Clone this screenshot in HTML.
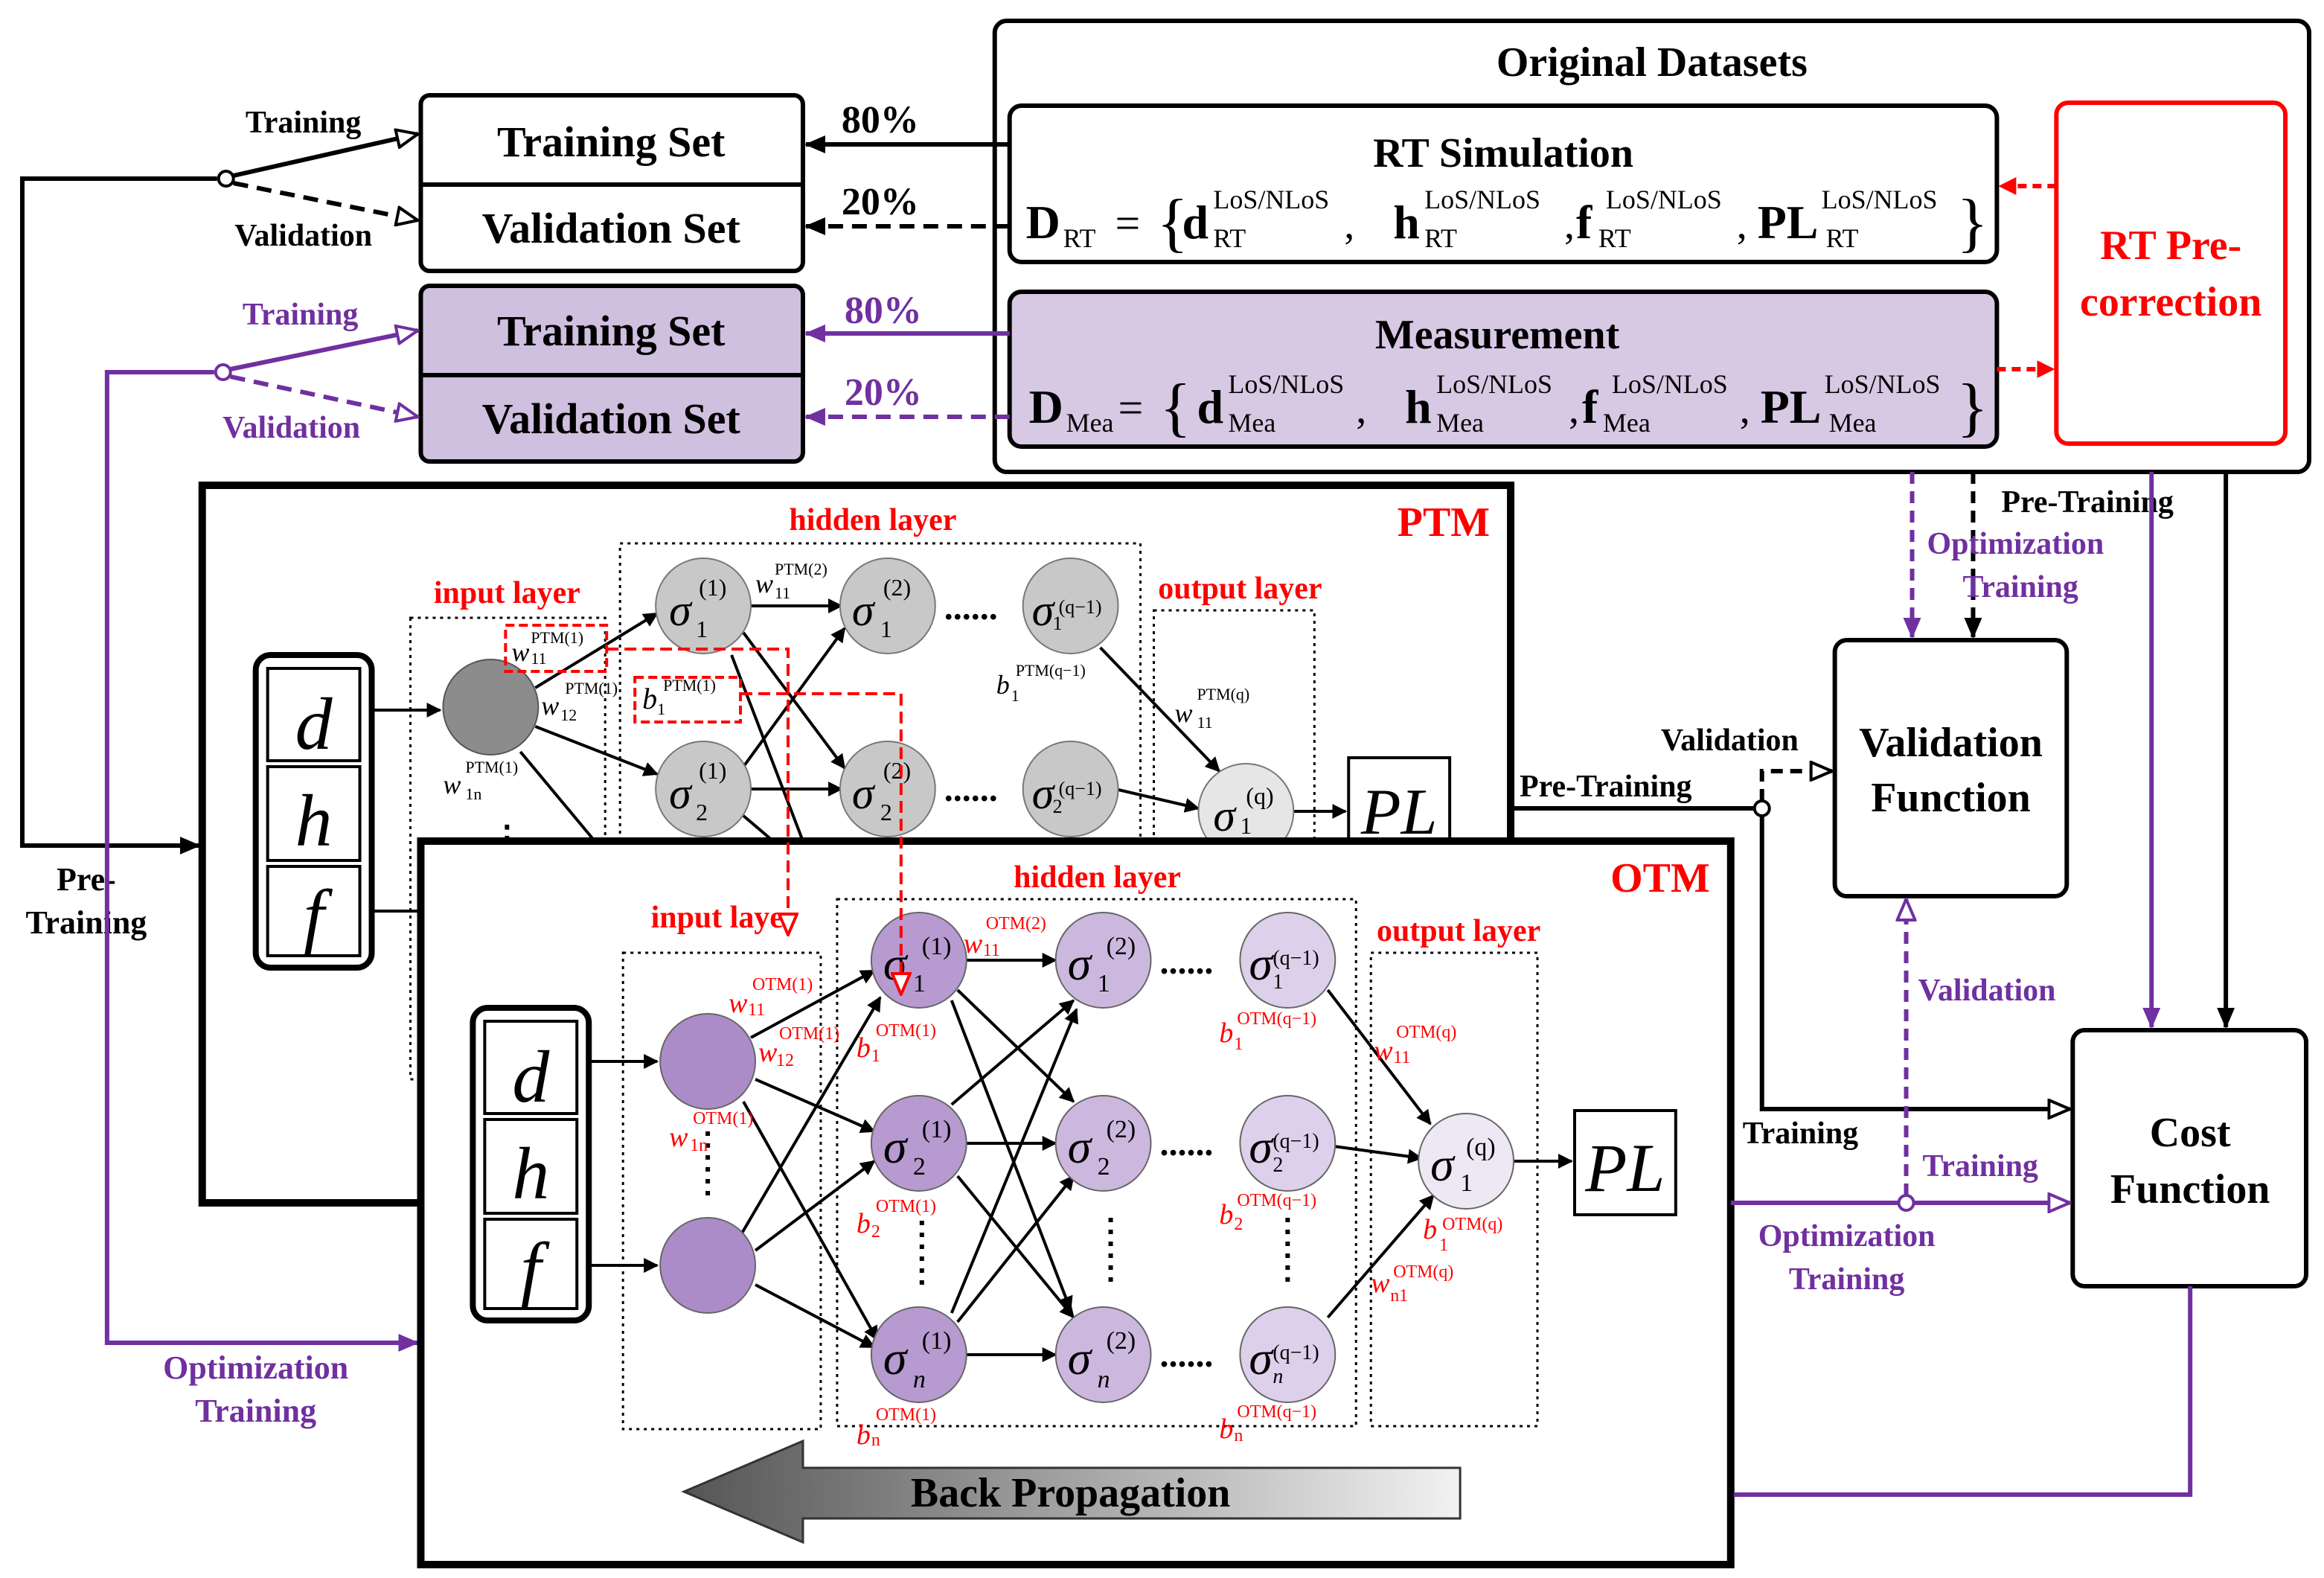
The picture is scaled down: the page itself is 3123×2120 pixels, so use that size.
<!DOCTYPE html>
<html><head><meta charset="utf-8"><style>
html,body{margin:0;padding:0;background:#fff}
svg{display:block}
text{font-family:"Liberation Serif",serif}
.b{font-weight:bold}
</style></head><body>
<svg width="3123" height="2120" viewBox="0 0 1563 1060" preserveAspectRatio="none" xmlns="http://www.w3.org/2000/svg">
<defs>
<marker id="ak" markerWidth="10" markerHeight="10" refX="9" refY="5" orient="auto" markerUnits="userSpaceOnUse"><path d="M0,0 L10,5 L0,10 z" fill="#000"/></marker>
<marker id="ao" markerWidth="16" markerHeight="14" refX="15" refY="7" orient="auto" markerUnits="userSpaceOnUse"><path d="M1,1 L15,7 L1,13 z" fill="#fff" stroke="#000" stroke-width="2"/></marker>
<marker id="ap" markerWidth="16" markerHeight="14" refX="15" refY="7" orient="auto" markerUnits="userSpaceOnUse"><path d="M1,1 L15,7 L1,13 z" fill="#fff" stroke="#7030a0" stroke-width="2"/></marker>
<marker id="apf" markerWidth="14" markerHeight="12" refX="13" refY="6" orient="auto" markerUnits="userSpaceOnUse"><path d="M0,0 L14,6 L0,12 z" fill="#7030a0"/></marker>
<marker id="akf" markerWidth="14" markerHeight="12" refX="13" refY="6" orient="auto" markerUnits="userSpaceOnUse"><path d="M0,0 L14,6 L0,12 z" fill="#000"/></marker>
<marker id="ar" markerWidth="12" markerHeight="12" refX="11" refY="6" orient="auto" markerUnits="userSpaceOnUse"><path d="M0,0 L12,6 L0,12 z" fill="#f00"/></marker>
<marker id="aro" markerWidth="14" markerHeight="16" refX="7" refY="15" orient="0" markerUnits="userSpaceOnUse"><path d="M1,1 L13,1 L7,15 z" fill="#fff" stroke="#f00" stroke-width="2"/></marker>
<linearGradient id="bp" x1="0" x2="1" y1="0" y2="0"><stop offset="0" stop-color="#555"/><stop offset="1" stop-color="#f2f2f2"/></linearGradient>
</defs>

<!-- Original datasets -->
<rect x="669" y="14" width="884" height="303" rx="8" fill="#fff" stroke="#000" stroke-width="3"/>
<text x="1111" y="51" class="b" font-size="28" text-anchor="middle">Original Datasets</text>
<rect x="679" y="71" width="664" height="105" rx="8" fill="#fff" stroke="#000" stroke-width="3"/>
<text x="1011" y="112" class="b" font-size="28" text-anchor="middle">RT Simulation</text>
<g font-size="18">
<text x="690" y="160" class="b" font-size="32">D</text><text x="715" y="166">RT</text>
<text x="750" y="160" font-size="30">=</text><text x="778" y="164" font-size="44">{</text>
<text x="795" y="160" class="b" font-size="32">d</text><text x="816" y="140">LoS/NLoS</text><text x="816" y="166">RT</text><text x="904" y="160" font-size="28">,</text>
<text x="937" y="160" class="b" font-size="32">h</text><text x="958" y="140">LoS/NLoS</text><text x="958" y="166">RT</text><text x="1052" y="160" font-size="28">,</text>
<text x="1060" y="160" class="b" font-size="32">f</text><text x="1080" y="140">LoS/NLoS</text><text x="1075" y="166">RT</text><text x="1168" y="160" font-size="28">,</text>
<text x="1182" y="160" class="b" font-size="32">PL</text><text x="1225" y="140">LoS/NLoS</text><text x="1228" y="166">RT</text>
<text x="1316" y="164" font-size="44">}</text>
</g>
<rect x="679" y="196" width="664" height="104" rx="8" fill="#d7c8e4" stroke="#000" stroke-width="3"/>
<text x="1007" y="234" class="b" font-size="28" text-anchor="middle">Measurement</text>
<g font-size="18">
<text x="692" y="284" class="b" font-size="32">D</text><text x="717" y="290">Mea</text>
<text x="752" y="284" font-size="30">=</text><text x="780" y="288" font-size="44">{</text>
<text x="805" y="284" class="b" font-size="32">d</text><text x="826" y="264">LoS/NLoS</text><text x="826" y="290">Mea</text><text x="912" y="284" font-size="28">,</text>
<text x="945" y="284" class="b" font-size="32">h</text><text x="966" y="264">LoS/NLoS</text><text x="966" y="290">Mea</text><text x="1055" y="284" font-size="28">,</text>
<text x="1064" y="284" class="b" font-size="32">f</text><text x="1084" y="264">LoS/NLoS</text><text x="1078" y="290">Mea</text><text x="1170" y="284" font-size="28">,</text>
<text x="1184" y="284" class="b" font-size="32">PL</text><text x="1227" y="264">LoS/NLoS</text><text x="1230" y="290">Mea</text>
<text x="1316" y="288" font-size="44">}</text>
</g>
<rect x="1383" y="69" width="154" height="229" rx="8" fill="#fff" stroke="#f00" stroke-width="3"/>
<text x="1460" y="174" class="b" font-size="28" fill="#f00" text-anchor="middle">RT Pre-</text>
<text x="1460" y="212" class="b" font-size="28" fill="#f00" text-anchor="middle">correction</text>
<line x1="1383" y1="125" x2="1345" y2="125" stroke="#f00" stroke-width="3" stroke-dasharray="6,4" marker-end="url(#ar)"/>
<line x1="1343" y1="248" x2="1381" y2="248" stroke="#f00" stroke-width="3" stroke-dasharray="6,4" marker-end="url(#ar)"/>

<!-- Sets -->
<rect x="283" y="64" width="257" height="118" rx="6" fill="#fff" stroke="#000" stroke-width="3"/>
<line x1="283" y1="124" x2="540" y2="124" stroke="#000" stroke-width="3"/>
<text x="411" y="105" class="b" font-size="29" text-anchor="middle">Training Set</text>
<text x="411" y="163" class="b" font-size="29" text-anchor="middle">Validation Set</text>
<rect x="283" y="192" width="257" height="118" rx="6" fill="#cfc0df" stroke="#000" stroke-width="3"/>
<line x1="283" y1="252" x2="540" y2="252" stroke="#000" stroke-width="3"/>
<text x="411" y="232" class="b" font-size="29" text-anchor="middle">Training Set</text>
<text x="411" y="291" class="b" font-size="29" text-anchor="middle">Validation Set</text>

<line x1="679" y1="97" x2="542" y2="97" stroke="#000" stroke-width="3" marker-end="url(#akf)"/>
<text x="592" y="89" class="b" font-size="26" text-anchor="middle">80%</text>
<line x1="679" y1="152" x2="542" y2="152" stroke="#000" stroke-width="3" stroke-dasharray="10,6" marker-end="url(#akf)"/>
<text x="592" y="144" class="b" font-size="26" text-anchor="middle">20%</text>
<line x1="679" y1="224" x2="542" y2="224" stroke="#7030a0" stroke-width="3" marker-end="url(#apf)"/>
<text x="594" y="217" class="b" font-size="26" fill="#7030a0" text-anchor="middle">80%</text>
<line x1="679" y1="280" x2="542" y2="280" stroke="#7030a0" stroke-width="3" stroke-dasharray="10,6" marker-end="url(#apf)"/>
<text x="594" y="272" class="b" font-size="26" fill="#7030a0" text-anchor="middle">20%</text>

<!-- left switches -->
<polyline points="136,568 15,568 15,120 146,120" fill="none" stroke="#000" stroke-width="3"/>
<line x1="15" y1="568" x2="134" y2="568" stroke="#000" stroke-width="3" marker-end="url(#akf)"/>
<circle cx="152" cy="120" r="5" fill="#fff" stroke="#000" stroke-width="2"/>
<line x1="157" y1="118" x2="281" y2="90" stroke="#000" stroke-width="3" marker-end="url(#ao)"/>
<line x1="157" y1="123" x2="281" y2="148" stroke="#000" stroke-width="3" stroke-dasharray="10,6" marker-end="url(#ao)"/>
<text x="204" y="89" class="b" font-size="21" text-anchor="middle">Training</text>
<text x="204" y="165" class="b" font-size="21" text-anchor="middle">Validation</text>
<text x="58" y="598" class="b" font-size="22" text-anchor="middle">Pre-</text>
<text x="58" y="627" class="b" font-size="22" text-anchor="middle">Training</text>

<polyline points="144,250 72,250 72,902 270,902" fill="none" stroke="#7030a0" stroke-width="3"/>
<line x1="72" y1="902" x2="281" y2="902" stroke="#7030a0" stroke-width="3" marker-end="url(#apf)"/>
<circle cx="150" cy="250" r="5" fill="#fff" stroke="#7030a0" stroke-width="2"/>
<line x1="155" y1="248" x2="281" y2="222" stroke="#7030a0" stroke-width="3" marker-end="url(#ap)"/>
<line x1="155" y1="253" x2="281" y2="280" stroke="#7030a0" stroke-width="3" stroke-dasharray="10,6" marker-end="url(#ap)"/>
<text x="202" y="218" class="b" font-size="21" fill="#7030a0" text-anchor="middle">Training</text>
<text x="196" y="294" class="b" font-size="21" fill="#7030a0" text-anchor="middle">Validation</text>
<text x="172" y="926" class="b" font-size="22" fill="#7030a0" text-anchor="middle">Optimization</text>
<text x="172" y="955" class="b" font-size="22" fill="#7030a0" text-anchor="middle">Training</text>

<!-- PTM -->
<rect x="136" y="326" width="880" height="482" fill="#fff" stroke="#000" stroke-width="5"/>
<text x="1002" y="360" class="b" font-size="28" fill="#f00" text-anchor="end">PTM</text>
<text x="587" y="356" class="b" font-size="21" fill="#f00" text-anchor="middle">hidden layer</text>
<text x="341" y="405" class="b" font-size="21" fill="#f00" text-anchor="middle">input layer</text>
<text x="834" y="402" class="b" font-size="21" fill="#f00" text-anchor="middle">output layer</text>
<rect x="276" y="415" width="131" height="310" fill="none" stroke="#000" stroke-width="1.5" stroke-dasharray="2,3"/>
<rect x="417" y="365" width="350" height="300" fill="none" stroke="#000" stroke-width="1.5" stroke-dasharray="2,3"/>
<rect x="776" y="410" width="108" height="250" fill="none" stroke="#000" stroke-width="1.5" stroke-dasharray="2,3"/>
<rect x="172" y="440" width="78" height="210" rx="10" fill="#fff" stroke="#000" stroke-width="4"/>
<rect x="180" y="449" width="62" height="62" fill="#fff" stroke="#000" stroke-width="2"/>
<rect x="180" y="515" width="62" height="63" fill="#fff" stroke="#000" stroke-width="2"/>
<rect x="180" y="582" width="62" height="60" fill="#fff" stroke="#000" stroke-width="2"/>
<text x="211" y="503" font-size="50" font-style="italic" text-anchor="middle">d</text>
<text x="211" y="568" font-size="50" font-style="italic" text-anchor="middle">h</text>
<text x="211" y="632" font-size="50" font-style="italic" text-anchor="middle">f</text>
<g stroke="#000" stroke-width="2" fill="none">
<line x1="250" y1="477" x2="296" y2="477" marker-end="url(#ak)"/>
<line x1="250" y1="612" x2="282" y2="612"/>
<line x1="360" y1="462" x2="442" y2="412" marker-end="url(#ak)"/>
<line x1="360" y1="488" x2="442" y2="520" marker-end="url(#ak)"/>
<line x1="350" y1="505" x2="400" y2="565"/>
<line x1="505" y1="407" x2="566" y2="407" marker-end="url(#ak)"/>
<line x1="505" y1="530" x2="566" y2="530" marker-end="url(#ak)"/>
<line x1="500" y1="425" x2="568" y2="516" marker-end="url(#ak)"/>
<line x1="500" y1="515" x2="568" y2="422" marker-end="url(#ak)"/>
<line x1="492" y1="440" x2="540" y2="565"/>
<line x1="500" y1="548" x2="520" y2="565"/>
<line x1="750" y1="530" x2="806" y2="543" marker-end="url(#ak)"/>
<line x1="740" y1="435" x2="820" y2="518" marker-end="url(#ak)"/>
<line x1="870" y1="545" x2="905" y2="545" marker-end="url(#ak)"/>
</g>
<circle cx="330" cy="475" r="32" fill="#8c8c8c" stroke="#555"/>
<g fill="#c8c8c8" stroke="#777">
<circle cx="473" cy="407" r="32"/><circle cx="597" cy="407" r="32"/><circle cx="720" cy="407" r="32"/>
<circle cx="473" cy="530" r="32"/><circle cx="597" cy="530" r="32"/><circle cx="720" cy="530" r="32"/>
</g>
<circle cx="838" cy="545" r="32" fill="#e6e6e6" stroke="#777"/>
<g font-size="30" font-style="italic">
<text x="450" y="420">σ</text><text x="573" y="420">σ</text><text x="694" y="420">σ</text>
<text x="450" y="543">σ</text><text x="573" y="543">σ</text><text x="694" y="543">σ</text><text x="816" y="558">σ</text>
</g>
<g font-size="16">
<text x="470" y="400">(1)</text><text x="594" y="400">(2)</text><text x="712" y="412" font-size="13">(q−1)</text>
<text x="470" y="523">(1)</text><text x="594" y="523">(2)</text><text x="712" y="534" font-size="13">(q−1)</text><text x="838" y="540">(q)</text>
<text x="468" y="428">1</text><text x="592" y="428">1</text><text x="708" y="423" font-size="13">1</text>
<text x="468" y="551">2</text><text x="592" y="551">2</text><text x="708" y="546" font-size="13">2</text><text x="834" y="560">1</text>
</g>
<text x="635" y="416" font-size="24" font-weight="bold">......</text>
<text x="635" y="538" font-size="24" font-weight="bold">......</text>
<rect x="907" y="509" width="68" height="56" fill="#fff" stroke="#000" stroke-width="2"/>
<text x="941" y="560" font-size="44" font-style="italic" text-anchor="middle">PL</text>
<g font-size="18" font-style="italic"><text x="344" y="444">w</text><text x="364" y="480">w</text><text x="298" y="533">w</text><text x="508" y="398">w</text><text x="790" y="485">w</text><text x="670" y="466">b</text></g>
<g font-size="11"><text x="357" y="432">PTM(1)</text><text x="357" y="446">11</text><text x="380" y="466">PTM(1)</text><text x="377" y="484">12</text><text x="313" y="519">PTM(1)</text><text x="313" y="537">1n</text><text x="521" y="386">PTM(2)</text><text x="521" y="402">11</text><text x="805" y="470">PTM(q)</text><text x="805" y="489">11</text><text x="683" y="454">PTM(q−1)</text><text x="680" y="471">1</text><text x="446" y="464">PTM(1)</text><text x="442" y="480">1</text></g>
<text x="432" y="476" font-size="20" font-style="italic">b</text>
<text x="330" y="570" font-size="22" font-weight="bold">⋮</text>
<rect x="340" y="420" width="68" height="31" fill="none" stroke="#f00" stroke-width="2" stroke-dasharray="6,3"/>
<rect x="427" y="455" width="71" height="30" fill="none" stroke="#f00" stroke-width="2" stroke-dasharray="6,3"/>

<!-- OTM -->
<rect x="283" y="565" width="881" height="486" fill="#fff" stroke="#000" stroke-width="5"/>
<text x="1150" y="599" class="b" font-size="28" fill="#f00" text-anchor="end">OTM</text>
<text x="738" y="596" class="b" font-size="21" fill="#f00" text-anchor="middle">hidden layer</text>
<text x="487" y="623" class="b" font-size="21" fill="#f00" text-anchor="middle">input layer</text>
<text x="981" y="632" class="b" font-size="21" fill="#f00" text-anchor="middle">output layer</text>
<rect x="419" y="640" width="133" height="320" fill="none" stroke="#000" stroke-width="1.5" stroke-dasharray="2,3"/>
<rect x="563" y="604" width="349" height="354" fill="none" stroke="#000" stroke-width="1.5" stroke-dasharray="2,3"/>
<rect x="922" y="640" width="112" height="318" fill="none" stroke="#000" stroke-width="1.5" stroke-dasharray="2,3"/>
<rect x="318" y="677" width="78" height="210" rx="10" fill="#fff" stroke="#000" stroke-width="4"/>
<rect x="326" y="686" width="62" height="62" fill="#fff" stroke="#000" stroke-width="2"/>
<rect x="326" y="752" width="62" height="63" fill="#fff" stroke="#000" stroke-width="2"/>
<rect x="326" y="819" width="62" height="60" fill="#fff" stroke="#000" stroke-width="2"/>
<text x="357" y="740" font-size="50" font-style="italic" text-anchor="middle">d</text>
<text x="357" y="805" font-size="50" font-style="italic" text-anchor="middle">h</text>
<text x="357" y="869" font-size="50" font-style="italic" text-anchor="middle">f</text>
<g stroke="#000" stroke-width="2" fill="none" marker-end="url(#ak)">
<line x1="396" y1="713" x2="442" y2="713"/>
<line x1="396" y1="850" x2="442" y2="850"/>
<line x1="505" y1="697" x2="588" y2="652"/>
<line x1="508" y1="725" x2="588" y2="760"/>
<line x1="500" y1="740" x2="590" y2="900"/>
<line x1="498" y1="830" x2="592" y2="670"/>
<line x1="508" y1="840" x2="588" y2="780"/>
<line x1="508" y1="863" x2="588" y2="905"/>
<line x1="650" y1="645" x2="710" y2="645"/>
<line x1="650" y1="768" x2="710" y2="768"/>
<line x1="650" y1="910" x2="710" y2="910"/>
<line x1="644" y1="665" x2="722" y2="740"/>
<line x1="640" y1="672" x2="720" y2="880"/>
<line x1="640" y1="742" x2="722" y2="672"/>
<line x1="644" y1="790" x2="722" y2="885"/>
<line x1="640" y1="882" x2="724" y2="678"/>
<line x1="644" y1="888" x2="722" y2="790"/>
<line x1="893" y1="665" x2="962" y2="755"/>
<line x1="897" y1="770" x2="956" y2="778"/>
<line x1="893" y1="885" x2="964" y2="803"/>
<line x1="1018" y1="780" x2="1057" y2="780"/>
</g>
<circle cx="476" cy="713" r="32" fill="#ab8cc8" stroke="#666"/>
<circle cx="476" cy="850" r="32" fill="#ab8cc8" stroke="#666"/>
<g stroke="#666">
<circle cx="618" cy="645" r="32" fill="#b69ad0"/><circle cx="742" cy="645" r="32" fill="#ccb8de"/><circle cx="866" cy="645" r="32" fill="#ddd0ea"/>
<circle cx="618" cy="768" r="32" fill="#b69ad0"/><circle cx="742" cy="768" r="32" fill="#ccb8de"/><circle cx="866" cy="768" r="32" fill="#ddd0ea"/>
<circle cx="618" cy="910" r="32" fill="#b69ad0"/><circle cx="742" cy="910" r="32" fill="#ccb8de"/><circle cx="866" cy="910" r="32" fill="#ddd0ea"/>
<circle cx="986" cy="780" r="32" fill="#eee7f4"/>
</g>
<g font-size="32" font-style="italic">
<text x="594" y="658">σ</text><text x="718" y="658">σ</text><text x="840" y="658">σ</text>
<text x="594" y="781">σ</text><text x="718" y="781">σ</text><text x="840" y="781">σ</text>
<text x="594" y="923">σ</text><text x="718" y="923">σ</text><text x="840" y="923">σ</text><text x="962" y="793">σ</text>
</g>
<g font-size="17">
<text x="620" y="641">(1)</text><text x="744" y="641">(2)</text><text x="856" y="648" font-size="14">(q−1)</text>
<text x="620" y="764">(1)</text><text x="744" y="764">(2)</text><text x="856" y="771" font-size="14">(q−1)</text>
<text x="620" y="906">(1)</text><text x="744" y="906">(2)</text><text x="856" y="913" font-size="14">(q−1)</text><text x="986" y="776">(q)</text>
<text x="614" y="666">1</text><text x="738" y="666">1</text><text x="856" y="664" font-size="14">1</text>
<text x="614" y="789">2</text><text x="738" y="789">2</text><text x="856" y="787" font-size="14">2</text>
<text x="614" y="932" font-style="italic">n</text><text x="738" y="932" font-style="italic">n</text><text x="856" y="929" font-size="14" font-style="italic">n</text><text x="982" y="800">1</text>
</g>
<text x="780" y="654" font-size="24" font-weight="bold">......</text>
<text x="780" y="776" font-size="24" font-weight="bold">......</text>
<text x="780" y="918" font-size="24" font-weight="bold">......</text>
<g stroke="#000" stroke-width="3" stroke-dasharray="3,5"><line x1="476" y1="760" x2="476" y2="805"/><line x1="620" y1="820" x2="620" y2="865"/><line x1="747" y1="818" x2="747" y2="865"/><line x1="866" y1="818" x2="866" y2="865"/></g>
<rect x="1059" y="746" width="68" height="70" fill="#fff" stroke="#000" stroke-width="2"/>
<text x="1093" y="800" font-size="46" font-style="italic" text-anchor="middle">PL</text>
<g fill="#f00" font-size="19" font-style="italic"><text x="490" y="680">w</text><text x="510" y="713">w</text><text x="450" y="770">w</text><text x="648" y="640">w</text><text x="576" y="710">b</text><text x="576" y="828">b</text><text x="576" y="970">b</text><text x="820" y="700">b</text><text x="820" y="822">b</text><text x="820" y="966">b</text><text x="924" y="712">w</text><text x="957" y="832">b</text><text x="922" y="868">w</text></g>
<g fill="#f00" font-size="12"><text x="506" y="665">OTM(1)</text><text x="503" y="682">11</text><text x="524" y="698">OTM(1)</text><text x="522" y="716">12</text><text x="466" y="755">OTM(1)</text><text x="464" y="773">1n</text><text x="663" y="624">OTM(2)</text><text x="661" y="642">11</text><text x="589" y="696">OTM(1)</text><text x="586" y="713">1</text><text x="589" y="814">OTM(1)</text><text x="586" y="831">2</text><text x="589" y="954">OTM(1)</text><text x="586" y="971">n</text><text x="832" y="688">OTM(q−1)</text><text x="830" y="705">1</text><text x="832" y="810">OTM(q−1)</text><text x="830" y="826">2</text><text x="832" y="952">OTM(q−1)</text><text x="830" y="968">n</text><text x="939" y="697">OTM(q)</text><text x="937" y="714">11</text><text x="970" y="826">OTM(q)</text><text x="968" y="840">1</text><text x="937" y="858">OTM(q)</text><text x="935" y="874">n1</text></g>

<!-- red dashed connectors -->
<polyline points="408,436 530,436 530,628" fill="none" stroke="#f00" stroke-width="2" stroke-dasharray="8,4" marker-end="url(#aro)"/>
<polyline points="498,466 606,466 606,668" fill="none" stroke="#f00" stroke-width="2" stroke-dasharray="8,4" marker-end="url(#aro)"/>

<!-- Back propagation -->
<polygon points="460,1002 540,968 540,986 982,986 982,1020 540,1020 540,1036" fill="url(#bp)" stroke="#333" stroke-width="1.5"/>
<text x="720" y="1012" class="b" font-size="28" text-anchor="middle">Back Propagation</text>

<!-- Validation/Cost -->
<rect x="1234" y="430" width="156" height="172" rx="8" fill="#fff" stroke="#000" stroke-width="3"/>
<text x="1312" y="508" class="b" font-size="28" text-anchor="middle">Validation</text>
<text x="1312" y="545" class="b" font-size="28" text-anchor="middle">Function</text>
<rect x="1394" y="692" width="157" height="172" rx="8" fill="#fff" stroke="#000" stroke-width="3"/>
<text x="1473" y="770" class="b" font-size="28" text-anchor="middle">Cost</text>
<text x="1473" y="808" class="b" font-size="28" text-anchor="middle">Function</text>

<line x1="1286" y1="317" x2="1286" y2="428" stroke="#7030a0" stroke-width="3" stroke-dasharray="8,5" marker-end="url(#apf)"/>
<line x1="1327" y1="317" x2="1327" y2="428" stroke="#000" stroke-width="3" stroke-dasharray="8,5" marker-end="url(#akf)"/>
<text x="1346" y="344" class="b" font-size="21">Pre-Training</text>
<text x="1296" y="372" class="b" font-size="21" fill="#7030a0">Optimization</text>
<text x="1320" y="401" class="b" font-size="21" fill="#7030a0">Training</text>
<line x1="1447" y1="317" x2="1447" y2="690" stroke="#7030a0" stroke-width="3" marker-end="url(#apf)"/>
<line x1="1497" y1="317" x2="1497" y2="690" stroke="#000" stroke-width="3" marker-end="url(#akf)"/>

<polyline points="1016,543 1180,543" fill="none" stroke="#000" stroke-width="3"/>
<circle cx="1185" cy="543" r="5" fill="#fff" stroke="#000" stroke-width="2"/>
<polyline points="1185,538 1185,518 1232,518" fill="none" stroke="#000" stroke-width="3" stroke-dasharray="8,5" marker-end="url(#ao)"/>
<polyline points="1185,548 1185,745 1392,745" fill="none" stroke="#000" stroke-width="3" marker-end="url(#ao)"/>
<text x="1117" y="504" class="b" font-size="21">Validation</text>
<text x="1022" y="535" class="b" font-size="21">Pre-Training</text>
<text x="1172" y="768" class="b" font-size="21">Training</text>

<polyline points="1164,808 1392,808" fill="none" stroke="#7030a0" stroke-width="3" marker-end="url(#ap)"/>
<circle cx="1282" cy="808" r="5" fill="#fff" stroke="#7030a0" stroke-width="2"/>
<line x1="1282" y1="803" x2="1282" y2="604" stroke="#7030a0" stroke-width="3" stroke-dasharray="8,5" marker-end="url(#ap)"/>
<text x="1290" y="672" class="b" font-size="21" fill="#7030a0">Validation</text>
<text x="1293" y="790" class="b" font-size="21" fill="#7030a0">Training</text>
<text x="1242" y="837" class="b" font-size="21" fill="#7030a0" text-anchor="middle">Optimization</text>
<text x="1242" y="866" class="b" font-size="21" fill="#7030a0" text-anchor="middle">Training</text>
<polyline points="1473,864 1473,1004 1166,1004" fill="none" stroke="#7030a0" stroke-width="3"/>
</svg>
</body></html>
